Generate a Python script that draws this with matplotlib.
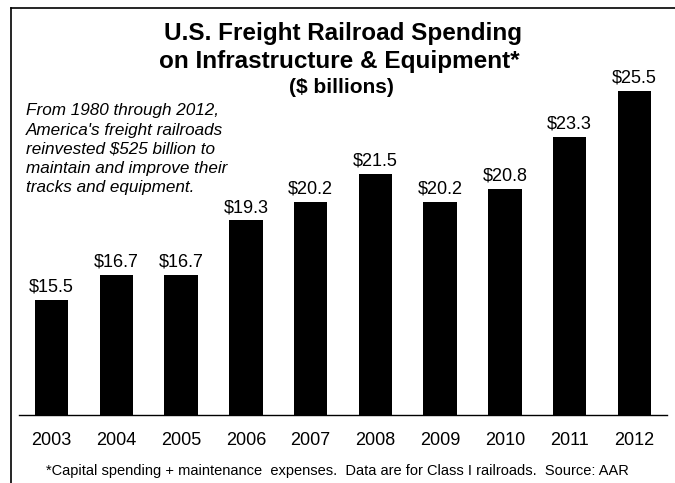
import matplotlib
matplotlib.use("Agg")
import matplotlib.pyplot as plt
from matplotlib.lines import Line2D

plt.rcParams['font.family'] = ['Liberation Sans', 'DejaVu Sans']

years = ['2003', '2004', '2005', '2006', '2007', '2008', '2009', '2010', '2011', '2012']
spending = [15.5, 16.7, 16.7, 19.3, 20.2, 21.5, 20.2, 20.8, 23.3, 25.5]
value_labels = ['$15.5', '$16.7', '$16.7', '$19.3', '$20.2', '$21.5', '$20.2', '$20.8', '$23.3', '$25.5']

title_lines = ['U.S. Freight Railroad Spending', 'on Infrastructure & Equipment*']
subtitle = '($ billions)'
note_lines = ['From 1980 through 2012,',
              "America's freight railroads",
              'reinvested $525 billion to',
              'maintain and improve their',
              'tracks and equipment.']
footnote = '*Capital spending + maintenance  expenses.  Data are for Class I railroads.  Source: AAR'

W, H = 675, 483
fig = plt.figure(figsize=(W / 100, H / 100), dpi=100)

def fy(py):
    return 1 - py / H

def fx(px):
    return px / W

# border (cropped at right / bottom)
fig.add_artist(Line2D([fx(11), 1.0], [fy(8), fy(8)], color='black', lw=1.2))
fig.add_artist(Line2D([fx(11), fx(11)], [fy(8), 0.0], color='black', lw=1.2))

ax = fig.add_axes([fx(19), fy(415), fx(667) - fx(19), fy(60) - fy(415)])
x = list(range(len(years)))
bars = ax.bar(x, spending, width=0.515, color='black', edgecolor='none')
ax.set_xlim(-0.505, 9.505)
ax.set_ylim(10, 10 + 355 / 20.93)

for xi, v, lab in zip(x, spending, value_labels):
    ax.annotate(lab, xy=(xi, v), xytext=(0, 6), textcoords='offset points',
                ha='center', va='baseline', fontsize=13)

ax.set_xticks(x)
ax.set_xticklabels(years, fontsize=13)
ax.tick_params(axis='x', length=0, pad=12)
ax.set_yticks([])
for s in ['top', 'left', 'right']:
    ax.spines[s].set_visible(False)
ax.spines['bottom'].set_linewidth(1.0)
ax.patch.set_alpha(0)

# titles
fig.text(fx(343), fy(40), title_lines[0], ha='center', va='baseline',
         fontsize=17.5, fontweight='bold')
fig.text(fx(339), fy(68), title_lines[1], ha='center', va='baseline',
         fontsize=17.5, fontweight='bold')
fig.text(fx(341), fy(93), subtitle, ha='center', va='baseline',
         fontsize=15, fontweight='bold')

# italic note
for i, line in enumerate(note_lines):
    fig.text(fx(26), fy(115.5 + i * 19.1), line, ha='left', va='baseline',
             fontsize=12.3, fontstyle='italic')

fig.text(fx(337.5), fy(475), footnote, ha='center', va='baseline', fontsize=10.5)

fig.savefig('out.png', dpi=100)
